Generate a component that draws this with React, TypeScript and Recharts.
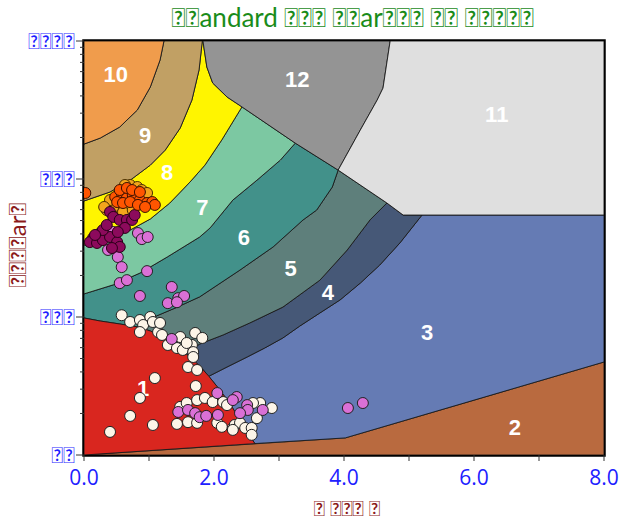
import React from 'react';
import { ComposedChart, Scatter, XAxis, YAxis, ReferenceLine, ReferenceArea } from 'recharts';

// field outlines, [x, y] pairs in data units (y is logarithmic)
const region10 = [[0, 1000], [1.23, 1000], [1.17, 728], [1.02, 464], [0.82, 316], [0.55, 238], [0.25, 198], [0, 179]];
const region9 = [[1.23, 1000], [1.82, 1000], [1.77, 617], [1.66, 373], [1.48, 234], [1.25, 162], [1.02, 126], [0.71, 98], [0.4, 80.5], [0, 69.3], [0, 179], [0.25, 198], [0.55, 238], [0.82, 316], [1.02, 464], [1.17, 728]];
const region8 = [[1.82, 1000], [1.83, 1000], [1.89, 648], [1.98, 496], [2.2, 393], [2.43, 333], [2.12, 192], [1.86, 126], [1.63, 95], [1.32, 67], [1.02, 51.3], [0.71, 42.7], [0.4, 37.4], [0, 33.2], [0, 69.3], [0.4, 80.5], [0.71, 98], [1.02, 126], [1.25, 162], [1.48, 234], [1.66, 373], [1.77, 617]];
const region12 = [[1.83, 1000], [4.71, 1000], [4.6, 456], [4.51, 373], [4.25, 226], [3.91, 116], [3.25, 182], [2.43, 333], [2.2, 393], [1.98, 496], [1.89, 648]];
const region11 = [[4.71, 1000], [8, 1000], [8, 54.8], [4.91, 54.8], [4.66, 67], [3.91, 116], [4.25, 226], [4.51, 373], [4.6, 456]];
const region7 = [[2.43, 333], [3.25, 182], [3.02, 137], [2.66, 98], [2.29, 70.4], [1.94, 44.2], [1.78, 38], [1.28, 27.2], [0.86, 20.8], [0.45, 17.1], [0, 14.7], [0, 33.2], [0.4, 37.4], [0.71, 42.7], [1.02, 51.3], [1.32, 67], [1.63, 95], [1.86, 126], [2.12, 192]];
const region6 = [[3.25, 182], [3.91, 116], [3.82, 87.5], [3.58, 59.6], [3.37, 50.5], [2.91, 32.2], [2.4, 21.9], [1.78, 14.0], [1.4, 11.6], [1.12, 10.2], [0.83, 8.47], [0.55, 8.9], [0.25, 9.35], [0, 9.84], [0, 14.7], [0.45, 17.1], [0.86, 20.8], [1.28, 27.2], [1.78, 38], [1.94, 44.2], [2.29, 70.4], [2.66, 98], [3.02, 137]];
const region5 = [[3.91, 116], [4.66, 67], [4.4, 50.5], [4.05, 30.6], [3.63, 18.5], [3.06, 11.8], [2.55, 9.05], [2.14, 7.41], [1.78, 6.37], [1.57, 5.48], [1.43, 6.06], [1.25, 7.05], [1.02, 7.92], [0.83, 8.47], [1.12, 10.2], [1.4, 11.6], [1.78, 14.0], [2.4, 21.9], [2.91, 32.2], [3.37, 50.5], [3.58, 59.6], [3.82, 87.5]];
const region4 = [[4.66, 67], [4.91, 54.8], [5.2, 54.8], [4.86, 34.4], [4.55, 23.8], [4.25, 17.6], [3.94, 13.3], [3.63, 10.7], [3.32, 8.6], [3.06, 7.05], [2.78, 5.96], [2.51, 5.13], [2.2, 4.34], [1.92, 3.72], [1.78, 4.42], [1.63, 5.13], [1.57, 5.48], [1.78, 6.37], [2.14, 7.41], [2.55, 9.05], [3.06, 11.8], [3.63, 18.5], [4.05, 30.6], [4.4, 50.5]];
const region3 = [[5.2, 54.8], [8, 54.8], [8, 4.72], [4.02, 1.33], [2.63, 1.21], [2.52, 1.44], [2.4, 1.79], [2.25, 2.34], [2.09, 2.96], [1.92, 3.72], [2.2, 4.34], [2.51, 5.13], [2.78, 5.96], [3.06, 7.05], [3.32, 8.6], [3.63, 10.7], [3.94, 13.3], [4.25, 17.6], [4.55, 23.8], [4.86, 34.4]];
const region2 = [[0, 1], [4.02, 1.33], [8, 4.72], [8, 1]];
const region1 = [[0, 9.84], [0.25, 9.35], [0.55, 8.9], [0.83, 8.47], [1.02, 7.92], [1.25, 7.05], [1.43, 6.06], [1.63, 5.13], [1.78, 4.42], [1.92, 3.72], [2.09, 2.96], [2.25, 2.34], [2.4, 1.79], [2.52, 1.44], [2.63, 1.21], [0, 1]];

const regions = [
    { data: region2, color: '#B96A3F' },
    { data: region3, color: '#657BB4' },
    { data: region4, color: '#465877' },
    { data: region5, color: '#5E7F7B' },
    { data: region6, color: '#42918A' },
    { data: region7, color: '#7CC8A2' },
    { data: region8, color: '#FFF500' },
    { data: region9, color: '#C1A064' },
    { data: region10, color: '#F09C4C' },
    { data: region12, color: '#949494' },
    { data: region11, color: '#DFDFDF' },
    { data: region1, color: '#D9261F' },
];

const labelNames = ['1', '2', '3', '4', '5', '6', '7', '8', '9', '10', '11', '12'];
const labelX = [0.91, 6.63, 5.28, 3.75, 3.18, 2.46, 1.82, 1.28, 0.94, 0.49, 6.35, 3.28];
const labelY = [3.06, 1.6, 7.78, 15.2, 22.6, 38, 62.7, 112, 208, 577, 296, 531];

// samples
const whitePts = [[0.58, 10.3], [0.71, 9.2], [0.86, 9.51], [1.02, 10.0], [0.91, 8.75], [1.06, 9.2], [0.86, 7.78], [1.14, 7.78], [1.2, 7.41], [1.29, 6.27], [1.43, 5.96], [1.52, 5.77], [1.66, 6.27], [1.71, 7.66], [1.82, 7.05], [1.68, 5.57], [1.68, 5.13], [1.6, 4.34], [1.74, 4.13], [1.72, 3.16], [1.09, 3.61], [0.86, 2.59], [0.71, 1.92], [1.06, 1.65], [0.4, 1.47], [1.43, 1.68], [1.6, 1.73], [1.74, 1.71], [1.48, 2.23], [1.58, 2.38], [1.74, 2.5], [1.86, 2.59], [1.98, 2.42], [2.14, 2.42], [2.2, 2.3], [2.05, 1.71], [2.12, 1.6], [2.29, 1.57], [2.32, 1.65], [2.4, 1.71], [2.48, 1.57], [2.58, 1.57], [2.58, 1.4], [2.29, 1.52], [2.66, 1.85], [2.71, 2.38], [2.89, 2.19], [2.6, 2.38], [1.17, 9.05], [1.48, 7.16], [1.58, 6.48]];
const orchidPts = [[0.45, 41.3], [0.37, 30.6], [0.52, 27.2], [0.58, 23.0], [0.55, 17.6], [0.66, 18.5], [0.97, 21.5], [0.83, 40.6], [0.89, 36.7], [0.98, 38.0], [0.86, 14.2], [1.35, 16.5], [1.45, 13.7], [1.54, 14.2], [1.29, 12.6], [1.43, 12.8], [1.35, 6.93], [2.05, 2.81], [2.35, 2.63], [2.29, 2.5], [2.51, 2.3], [2.52, 2.12], [2.75, 2.12], [2.4, 2.01], [2.06, 1.95], [1.45, 2.05], [1.6, 2.12], [1.71, 2.01], [1.78, 1.88], [1.88, 1.92], [4.06, 2.19], [4.29, 2.38]];
const goldPts = [[0.71, 90.5], [0.82, 87.5], [0.89, 83.2], [0.97, 79.2], [0.43, 56.7], [0.51, 59.6], [0.6, 57.7], [0.35, 59.6], [0.45, 62.7], [0.75, 59.6], [0.63, 90.5], [0.4, 70.4], [0.31, 62.7]];
const purplePts = [[0.4, 57.7], [0.45, 53.1], [0.55, 50.5], [0.66, 50.5], [0.74, 50.5], [0.25, 40.6], [0.14, 37.4], [0.09, 34.9], [0.2, 34.4], [0.29, 36.1], [0.4, 38.0], [0.51, 34.9], [0.55, 32.2], [0.43, 31.6], [0.29, 42.7], [0.17, 39.3], [0.35, 46.4], [0.63, 44.2], [0.52, 41.3], [0.78, 54.8]];
const orangePts = [[0.02, 79.2], [0.48, 74.1], [0.58, 79.2], [0.66, 72.8], [0.75, 76.6], [0.86, 70.4], [0.97, 67.0], [1.05, 68.1], [1.09, 64.9], [0.51, 68.1], [0.6, 67.0], [0.71, 68.1], [0.83, 64.9], [0.94, 62.7], [0.55, 83.2], [0.66, 86.1], [0.74, 83.2], [0.86, 80.5]];

const xTicks = [0, 1, 2, 3, 4, 5, 6, 7, 8];
const xMajor = [0, 2, 4, 6, 8];
const yTicks = [1, 2, 3, 4, 5, 6, 7, 8, 9, 10, 20, 30, 40, 50, 60, 70, 80, 90, 100, 200, 300, 400, 500, 600, 700, 800, 900, 1000];
const yMajor = [1, 10, 100, 1000];
// the source labels use glyphs missing from every installed font
const yTickLabels = ['\uE000\uE001', '\uE000\uE002\uE003', '\uE000\uE002\uE002', '\uE000\uE002\uE002\uE002'];

const titleText = '\uE010\uE011andard \uE012\uE013\uE014 \uE015\uE016ar\uE017\uE018\uE019 \uE01A\uE01B \uE01C\uE01D\uE01E\uE01F\uE020';
const xTitle = '\uE030 \uE031\uE032\uE033 \uE034';
const yTitle = '\uE040\uE041\uE042\uE043ar\uE044';

const TXT_FONT = 'Lato';

const toPts = (a: number[][]) => a.map(([x, y]) => ({ x, y }));
const noShape = () => <g />;

const polyLine = (fill: string) => (props: any) => {
    const p = props.points || [];
    if (!p.length) return <g />;
    const d = p.map((q: any, i: number) => `${i ? 'L' : 'M'}${q.x},${q.y}`).join(' ') + ' Z';
    return <path d={d} fill={fill} stroke="#1a1a1a" strokeWidth={0.9} />;
};

const dot = (fill: string, stroke: string) => (p: any) => (
    <circle cx={p.cx} cy={p.cy} r={5.5} fill={fill} stroke={stroke} strokeWidth={1} />
);

const Y_TICK_SIZE = 8;
const Y_TICK_MARGIN = 1;

const YTick = (props: any) => {
    const { x, y, payload } = props;
    const i = yMajor.indexOf(payload.value);
    const right = x + Y_TICK_SIZE + Y_TICK_MARGIN;
    const len = i >= 0 ? 8 : 4;
    return (
        <g>
            <line x1={right - len} x2={right} y1={y} y2={y} stroke="#333" />
            {i >= 0 && (
                <text x={x} y={y} dy="0.36em" textAnchor="end" fill="#1f1fff" fontSize={22} fontFamily={TXT_FONT}>
                    {yTickLabels[i]}
                </text>
            )}
        </g>
    );
};

const labels = labelNames.map((label, i) => ({ x: labelX[i], y: labelY[i], label }));

export default function App() {
    return (
        <div style={{ width: 619, height: 521, padding: 8, boxSizing: 'border-box' }}>
            <style>{'body { margin: 0; } svg.recharts-surface { overflow: visible; }'}</style>
            <div style={{ position: 'relative', width: 603, height: 505 }}>
                <div style={{ position: 'absolute', left: 145, width: 400, top: -7, lineHeight: '32px', textAlign: 'center', color: '#1a8c1a', fontSize: 26, fontFamily: TXT_FONT, whiteSpace: 'nowrap' }}>
                    {titleText}
                </div>
                <div style={{ position: 'absolute', left: 8, top: 237, transform: 'translate(-50%, -50%) rotate(-90deg)', color: '#8b1a1a', fontSize: 24, fontFamily: TXT_FONT, whiteSpace: 'nowrap' }}>
                    {yTitle}
                </div>
                <div style={{ position: 'absolute', left: 339, top: 499, transform: 'translate(-50%, -50%)', color: '#8b1a1a', fontSize: 21, fontFamily: TXT_FONT, whiteSpace: 'nowrap' }}>
                    {xTitle}
                </div>
                <ComposedChart width={611} height={505} margin={{ top: 33, right: 15, bottom: 18, left: 16 }}>
                    <XAxis
                        type="number"
                        dataKey="x"
                        domain={[0, 8]}
                        ticks={xTicks}
                        allowDataOverflow
                        height={40}
                        tickSize={6}
                        tickMargin={9}
                        axisLine={false}
                        tickLine={{ stroke: '#333' }}
                        tickFormatter={(v: number) => (xMajor.includes(v) ? v.toFixed(1) : '')}
                        tick={{ fill: '#2020ff', fontSize: 21, fontFamily: 'Open Sans' }}
                    />
                    <YAxis
                        type="number"
                        dataKey="y"
                        scale="log"
                        domain={[1, 1000]}
                        ticks={yTicks}
                        allowDataOverflow
                        width={60}
                        tickSize={Y_TICK_SIZE}
                        tickMargin={Y_TICK_MARGIN}
                        axisLine={false}
                        tickLine={false}
                        tick={<YTick />}
                        interval={0}
                    />
                    {regions.map((r, i) => (
                        <Scatter
                            key={'r' + i}
                            data={toPts(r.data)}
                            line={polyLine(r.color)}
                            lineType="joint"
                            shape={noShape}
                            isAnimationActive={false}
                        />
                    ))}
                    <ReferenceLine x={2} stroke="#9a9a9a" strokeDasharray="2 4" />
                    <ReferenceLine x={4} stroke="#9a9a9a" strokeDasharray="2 4" />
                    <ReferenceLine x={6} stroke="#9a9a9a" strokeDasharray="2 4" />
                    <ReferenceLine y={10} stroke="#9a9a9a" strokeDasharray="3 5" />
                    <ReferenceLine y={100} stroke="#9a9a9a" strokeDasharray="3 5" />
                    <Scatter
                        data={labels}
                        isAnimationActive={false}
                        shape={(p: any) => (
                            <text x={p.cx} y={p.cy} dy="0.36em" textAnchor="middle" fill="#fff" fontSize={22} fontWeight="bold" fontFamily="Liberation Sans">
                                {p.payload.label}
                            </text>
                        )}
                    />
                    <Scatter data={toPts(whitePts)} isAnimationActive={false} shape={dot('#FDF5E8', '#222')} />
                    <Scatter data={toPts(orchidPts)} isAnimationActive={false} shape={dot('#DA70D6', '#222')} />
                    <Scatter data={toPts(goldPts)} isAnimationActive={false} shape={dot('#F3A51C', '#4a3000')} />
                    <Scatter data={toPts(purplePts)} isAnimationActive={false} shape={dot('#8C0A5C', '#2a0018')} />
                    <Scatter data={toPts(orangePts)} isAnimationActive={false} shape={dot('#FF5500', '#3a1000')} />
                    <ReferenceArea x1={0} x2={8} y1={1} y2={1000} fill="none" stroke="#000" strokeWidth={3.5} ifOverflow="visible" />
                </ComposedChart>
            </div>
        </div>
    );
}
